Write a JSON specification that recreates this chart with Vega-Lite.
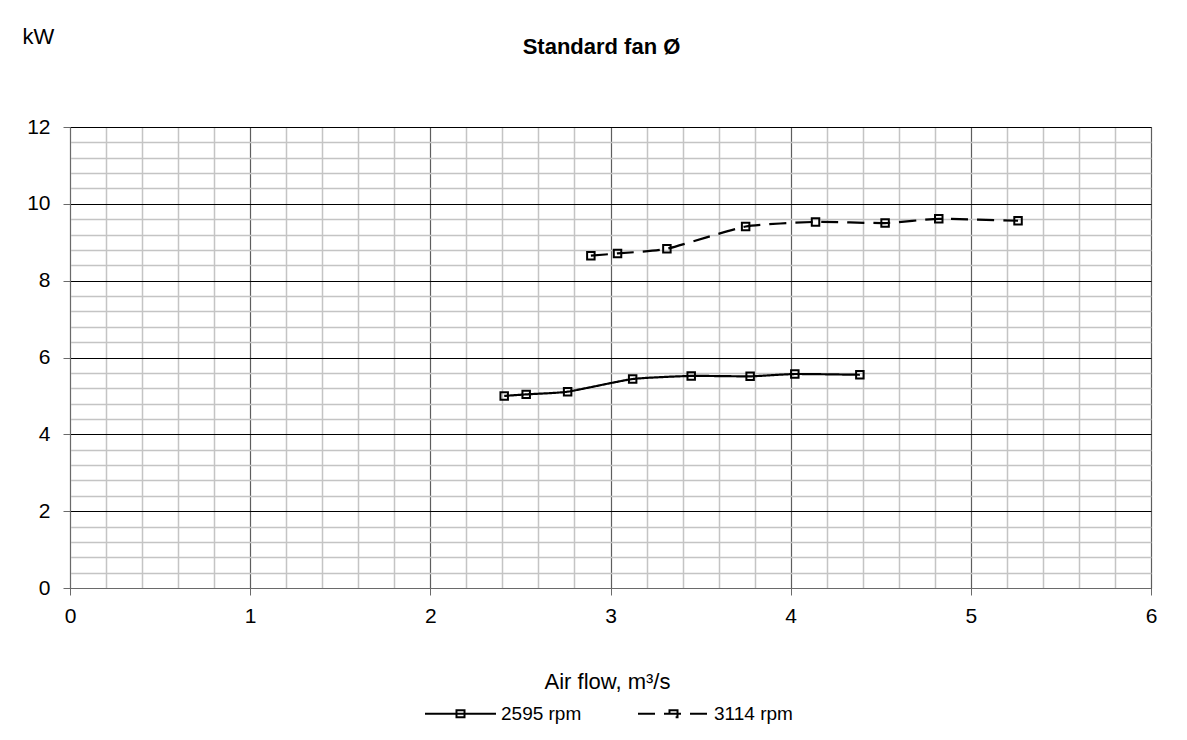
{
  "$schema": "https://vega.github.io/schema/vega-lite/v6.json",
  "width": 1081,
  "height": 461,
  "autosize": "none",
  "padding": {"left": 70, "top": 127, "right": 36, "bottom": 152},
  "background": "white",
  "title": {"text": "Standard fan Ø", "font": "Liberation Sans", "fontSize": 22, "fontWeight": "bold", "color": "black", "anchor": "middle", "frame": "group", "offset": -51, "baseline": "alphabetic", "dx": -9},
  "data": {"values": [
    {"series": "2595 rpm", "flow": 2.41, "kw": 5.00},
    {"series": "2595 rpm", "flow": 2.532, "kw": 5.04},
    {"series": "2595 rpm", "flow": 2.762, "kw": 5.11},
    {"series": "2595 rpm", "flow": 3.123, "kw": 5.44},
    {"series": "2595 rpm", "flow": 3.448, "kw": 5.52},
    {"series": "2595 rpm", "flow": 3.775, "kw": 5.51},
    {"series": "2595 rpm", "flow": 4.023, "kw": 5.57},
    {"series": "2595 rpm", "flow": 4.384, "kw": 5.55},
    {"series": "3114 rpm", "flow": 2.891, "kw": 8.65},
    {"series": "3114 rpm", "flow": 3.039, "kw": 8.71},
    {"series": "3114 rpm", "flow": 3.313, "kw": 8.83},
    {"series": "3114 rpm", "flow": 3.750, "kw": 9.41},
    {"series": "3114 rpm", "flow": 4.138, "kw": 9.53},
    {"series": "3114 rpm", "flow": 4.524, "kw": 9.50},
    {"series": "3114 rpm", "flow": 4.822, "kw": 9.61},
    {"series": "3114 rpm", "flow": 5.262, "kw": 9.56}
  ]},
  "encoding": {
    "x": {"field": "flow", "type": "quantitative",
      "scale": {"domain": [0, 6], "nice": false},
      "axis": {
        "title": "Air flow, m³/s",
        "values": [0,0.2,0.4,0.6,0.8,1,1.2,1.4,1.6,1.8,2,2.2,2.4,2.6,2.8,3,3.2,3.4,3.6,3.8,4,4.2,4.4,4.6,4.8,5,5.2,5.4,5.6,5.8,6],
        "labelExpr": "datum.value % 1 === 0 ? format(datum.value, 'd') : ''",
        "grid": true,
        "gridColor": {"condition": {"test": "datum.value % 1 === 0", "value": "#5e5e5e"}, "value": "#c4c4c4"},
        "gridWidth": {"condition": {"test": "datum.value % 1 === 0", "value": 1.2}, "value": 1.5},
        "tickColor": {"condition": {"test": "datum.value % 1 === 0", "value": "#6a6a6a"}, "value": "transparent"},
        "tickSize": 7,
        "domainColor": "#6a6a6a",
        "labelPadding": 10,
        "labelFlush": false,
        "labelOverlap": false,
        "titleY": 100,
        "titleBaseline": "alphabetic",
        "titleX": 537
      }
    },
    "y": {"field": "kw", "type": "quantitative",
      "scale": {"domain": [0, 12], "nice": false},
      "axis": {
        "title": "kW",
        "values": [0,0.4,0.8,1.2,1.6,2,2.4,2.8,3.2,3.6,4,4.4,4.8,5.2,5.6,6,6.4,6.8,7.2,7.6,8,8.4,8.8,9.2,9.6,10,10.4,10.8,11.2,11.6,12],
        "labelExpr": "datum.value % 2 === 0 ? format(datum.value, 'd') : ''",
        "grid": true,
        "gridColor": {"condition": {"test": "datum.value % 2 === 0", "value": "#000000"}, "value": "#c4c4c4"},
        "gridWidth": {"condition": {"test": "datum.value % 2 === 0", "value": 1}, "value": 1.5},
        "tickColor": {"condition": {"test": "datum.value % 2 === 0", "value": "#6a6a6a"}, "value": "transparent"},
        "tickSize": 7,
        "domainColor": "#6a6a6a",
        "labelPadding": 13,
        "labelFlush": false,
        "labelOverlap": false,
        "titleAngle": 0,
        "titleAlign": "left",
        "titleBaseline": "alphabetic",
        "titleX": -48,
        "titleY": -84
      }
    }
  },
  "layer": [
    {
      "mark": {"type": "line", "color": "black", "strokeWidth": 2.2, "interpolate": "cardinal", "tension": 0.5},
      "encoding": {
        "strokeDash": {"field": "series", "type": "nominal",
          "scale": {"domain": ["2595 rpm", "3114 rpm"], "range": [[1, 0], [17, 9]]},
          "legend": {
            "title": null,
            "orient": "none",
            "direction": "horizontal",
            "legendX": 354,
            "legendY": 550,
            "symbolType": "M-1,0H1M-0.113,-0.1H0.113V0.1H-0.113Z",
            "symbolSize": 5041,
            "symbolStrokeWidth": 2,
            "symbolStrokeColor": "black",
            "symbolFillColor": "transparent",
            "labelFont": "Liberation Sans",
            "labelFontSize": 19,
            "labelColor": "black",
            "labelOffset": 4,
            "columnPadding": 52
          }
        }
      }
    },
    {
      "mark": {"type": "point", "shape": "square", "filled": false, "size": 56, "stroke": "black", "strokeWidth": 2, "opacity": 1}
    }
  ],
  "config": {
    "view": {"stroke": "#6a6a6a", "strokeWidth": 1},
    "axis": {
      "labelFont": "Liberation Sans",
      "labelFontSize": 21,
      "labelColor": "black",
      "titleFont": "Liberation Sans",
      "titleFontSize": 22,
      "titleFontWeight": "normal",
      "titleColor": "black"
    }
  }
}
